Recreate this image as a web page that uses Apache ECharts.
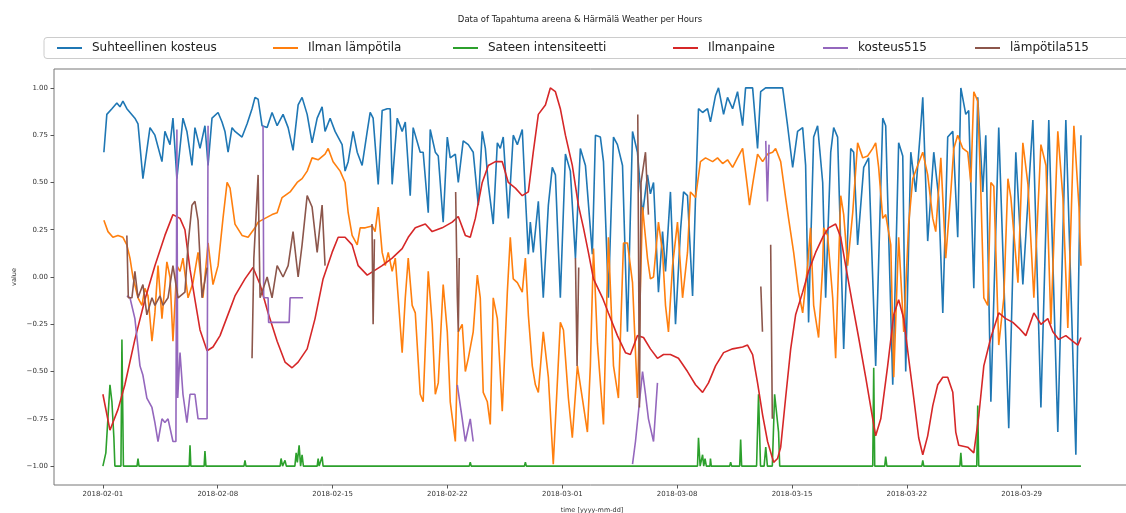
<!DOCTYPE html>
<html><head><meta charset="utf-8">
<script src="https://cdn.jsdelivr.net/npm/echarts@6/dist/echarts.min.js"></script>
<style>html,body{margin:0;padding:0;background:#fff}#c{width:1126px;height:513px}</style>
</head><body><div id="c"></div>
<script>
// Day offsets are counted from 2018-02-01 00:00
const chartTitle = 'Data of Tapahtuma areena & Härmälä Weather per Hours';
const seriesNames = ['Suhteellinen kosteus', 'Ilman lämpötila', 'Sateen intensiteetti', 'Ilmanpaine', 'kosteus515', 'lämpötila515'];
const tickDays = [0, 7, 14, 21, 28, 35, 42, 49, 56];
const tickLabels = ['2018-02-01', '2018-02-08', '2018-02-15', '2018-02-22', '2018-03-01', '2018-03-08', '2018-03-15', '2018-03-22', '2018-03-29'];
const yTicks = [-1, -0.75, -0.5, -0.25, 0, 0.25, 0.5, 0.75, 1];

const rhDays = [0.06,0.24,0.55,0.85,1.04,1.22,1.46,1.95,2.14,2.44,2.87,3.17,3.60,3.78,4.09,4.27,4.51,4.88,5.12,5.43,5.61,5.92,6.22,6.41,6.65,7.02,7.26,7.44,7.63,7.87,8.05,8.48,8.79,9.09,9.27,9.46,9.70,10.01,10.31,10.62,10.98,11.29,11.59,11.90,12.14,12.45,12.75,13.06,13.36,13.54,13.85,14.15,14.58,14.76,14.95,15.25,15.50,15.80,16.11,16.29,16.47,16.78,17.02,17.33,17.51,17.63,17.94,18.24,18.43,18.73,18.91,19.34,19.52,19.83,19.95,20.26,20.44,20.74,20.99,21.17,21.48,21.66,21.96,22.27,22.57,22.88,23.12,23.31,23.49,23.79,24.04,24.22,24.40,24.71,25.01,25.26,25.56,25.75,25.93,26.05,26.23,26.54,26.84,27.15,27.39,27.58,27.88,28.19,28.49,28.80,29.10,29.41,29.83,30.02,30.32,30.51,30.81,31.12,31.36,31.67,31.97,32.28,32.58,32.89,33.19,33.37,33.56,33.86,34.11,34.29,34.59,34.90,35.20,35.39,35.63,35.94,36.12,36.30,36.55,36.85,37.03,37.34,37.52,37.83,38.07,38.38,38.68,38.99,39.17,39.60,39.90,40.09,40.39,40.82,41.43,41.73,42.04,42.34,42.65,42.83,43.01,43.32,43.56,43.87,44.05,44.36,44.54,44.78,45.15,45.58,45.76,46.00,46.37,46.67,47.10,47.53,47.71,48.14,48.50,48.75,48.93,49.24,49.54,49.85,49.97,50.27,50.64,50.94,51.19,51.49,51.80,52.10,52.29,52.59,52.77,53.08,53.32,53.63,53.81,54.12,54.60,55.21,55.64,56.07,56.68,57.17,57.65,58.20,58.69,59.30,59.61];
const rhValues = [0.66,0.86,0.89,0.92,0.90,0.93,0.89,0.84,0.81,0.52,0.79,0.75,0.61,0.77,0.70,0.84,0.52,0.84,0.77,0.59,0.79,0.68,0.80,0.59,0.84,0.87,0.82,0.77,0.66,0.79,0.77,0.74,0.81,0.89,0.95,0.94,0.80,0.79,0.87,0.80,0.86,0.79,0.67,0.91,0.95,0.86,0.71,0.84,0.90,0.77,0.84,0.77,0.70,0.56,0.61,0.77,0.66,0.59,0.77,0.87,0.84,0.49,0.88,0.89,0.89,0.49,0.84,0.77,0.82,0.43,0.79,0.66,0.66,0.34,0.78,0.66,0.64,0.29,0.74,0.63,0.65,0.50,0.72,0.70,0.66,0.38,0.77,0.68,0.49,0.28,0.71,0.68,0.74,0.31,0.75,0.70,0.78,0.43,0.12,0.29,0.13,0.40,-0.11,0.38,0.58,0.54,-0.11,0.65,0.56,0.10,0.68,0.59,0.12,0.75,0.74,0.61,-0.11,0.74,0.70,0.59,-0.29,0.77,0.66,0.33,0.54,0.44,0.50,-0.08,0.24,0.03,0.45,-0.25,0.24,0.45,0.43,-0.10,0.42,0.89,0.87,0.89,0.82,0.96,1.00,0.86,0.95,0.89,0.98,0.80,1.00,1.00,0.68,0.98,1.00,1.00,1.00,0.80,0.58,0.77,0.79,0.59,-0.24,0.74,0.80,0.50,-0.11,0.66,0.79,0.74,-0.38,0.68,0.66,0.17,0.58,0.63,-0.47,0.84,0.80,-0.57,0.71,0.64,-0.50,0.66,0.45,0.80,0.95,0.19,0.66,0.42,-0.19,0.74,0.77,0.21,1.00,0.86,0.88,-0.06,0.95,0.45,0.75,-0.66,0.79,-0.80,0.66,-0.04,0.83,-0.69,0.83,-0.82,0.83,-0.94,0.75];

const tempDays = [0.06,0.31,0.61,0.92,1.22,1.46,1.65,1.83,2.14,2.38,2.56,2.75,2.99,3.17,3.36,3.60,3.90,4.09,4.27,4.51,4.70,4.88,5.19,5.49,5.80,6.10,6.41,6.71,7.02,7.32,7.57,7.75,8.05,8.48,8.85,9.27,9.46,9.88,10.31,10.62,10.92,11.41,11.84,12.14,12.45,12.75,13.12,13.54,13.73,14.03,14.46,14.76,14.95,15.19,15.50,15.68,15.99,16.41,16.59,16.78,17.02,17.21,17.39,17.63,17.82,18.00,18.24,18.43,18.61,18.85,19.04,19.34,19.52,19.83,20.07,20.26,20.44,20.74,20.99,21.17,21.48,21.66,21.90,22.09,22.27,22.57,22.82,23.00,23.18,23.43,23.61,23.79,24.04,24.34,24.65,24.83,25.01,25.26,25.56,25.75,25.93,26.17,26.36,26.54,26.84,27.15,27.45,27.88,28.07,28.37,28.61,28.92,29.22,29.53,29.71,29.90,30.14,30.51,30.81,31.12,31.42,31.73,31.97,32.28,32.58,32.89,33.19,33.37,33.56,33.86,34.11,34.29,34.47,34.72,35.02,35.33,35.63,35.81,36.12,36.42,36.73,37.16,37.46,37.77,38.07,38.38,38.68,38.99,39.29,39.41,39.60,39.90,40.21,40.51,40.82,41.00,41.31,41.61,41.79,42.10,42.40,42.65,42.95,43.13,43.32,43.62,43.87,43.93,44.17,44.48,44.66,44.97,45.15,45.39,45.70,46.00,46.31,46.61,46.92,47.10,47.28,47.53,47.71,48.02,48.20,48.50,48.81,49.11,49.36,49.66,49.97,50.27,50.58,50.76,51.07,51.37,51.68,51.86,52.10,52.41,52.71,52.90,53.08,53.32,53.51,53.69,53.93,54.12,54.30,54.60,54.91,55.16,55.34,55.77,56.07,56.38,56.74,57.17,57.48,57.78,58.20,58.51,58.81,59.18,59.49,59.61];
const tempValues = [0.30,0.24,0.21,0.22,0.21,0.17,0.10,0.00,-0.11,-0.15,-0.06,-0.10,-0.34,-0.19,0.06,-0.22,0.08,0.00,-0.34,0.06,0.03,0.10,-0.11,-0.03,0.13,-0.11,0.18,-0.04,0.06,0.31,0.50,0.47,0.28,0.22,0.21,0.26,0.29,0.31,0.33,0.34,0.42,0.45,0.50,0.52,0.56,0.63,0.62,0.65,0.68,0.61,0.56,0.50,0.34,0.22,0.17,0.26,0.26,0.27,0.24,0.37,0.13,0.06,0.13,0.03,0.10,-0.11,-0.40,-0.11,0.10,-0.15,-0.19,-0.62,-0.66,0.03,-0.25,-0.62,-0.56,-0.04,-0.29,-0.66,-0.87,-0.29,-0.25,-0.50,-0.43,-0.29,0.01,-0.11,-0.61,-0.66,-0.78,-0.11,-0.22,-0.71,-0.08,0.21,-0.01,-0.03,-0.08,0.10,-0.20,-0.47,-0.57,-0.61,-0.29,-0.53,-0.99,-0.24,-0.28,-0.64,-0.85,-0.47,-0.64,-0.82,-0.47,0.15,-0.35,-0.78,0.21,-0.47,-0.64,0.18,0.18,-0.03,-0.64,0.37,0.10,-0.01,0.00,0.29,0.13,-0.15,-0.29,0.06,0.29,-0.11,0.13,0.45,0.42,0.61,0.63,0.61,0.63,0.60,0.62,0.58,0.63,0.68,0.47,0.38,0.49,0.65,0.61,0.65,0.66,0.68,0.61,0.42,0.31,0.13,-0.08,-0.19,0.06,0.26,-0.15,-0.32,0.06,0.26,0.22,-0.11,-0.43,0.43,0.33,0.06,0.34,0.71,0.63,0.64,0.68,0.71,0.58,0.31,0.33,0.17,-0.53,0.21,-0.29,0.28,0.52,0.59,0.66,0.54,0.31,0.24,0.63,0.10,0.45,0.68,0.75,0.68,0.66,0.50,0.98,0.93,0.45,-0.11,-0.15,0.50,0.48,-0.36,-0.11,0.52,0.42,-0.03,0.71,0.49,-0.11,0.70,0.59,-0.25,0.77,0.42,-0.27,0.80,0.37,0.06];

const rainDays = [0.00,0.18,0.43,0.55,0.67,0.73,1.10,1.16,1.25,2.08,2.14,2.20,5.26,5.31,5.36,6.17,6.22,6.28,8.60,8.66,8.72,10.80,10.86,10.95,11.10,11.18,11.70,11.78,11.85,11.96,12.05,12.14,12.22,13.06,13.12,13.18,13.30,13.36,13.42,22.33,22.39,22.45,25.69,25.75,25.81,36.24,36.30,36.40,36.50,36.55,36.62,36.70,36.78,37.00,37.03,37.08,38.20,38.26,38.32,38.81,38.87,38.93,39.84,39.96,40.08,40.30,40.40,40.50,40.80,40.94,41.06,41.18,41.25,46.92,46.98,47.04,47.65,47.71,47.78,49.91,49.97,50.03,52.23,52.29,52.35,53.26,53.32,53.38,59.61];
const rainValues = [-1,-0.93,-0.57,-0.66,-0.85,-1,-1,-0.33,-1,-1,-0.96,-1,-1,-0.89,-1,-1,-0.92,-1,-1,-0.97,-1,-1,-0.96,-1,-0.97,-1,-1,-0.93,-0.98,-0.89,-1,-0.94,-1,-1,-0.96,-1,-1,-0.95,-1,-1,-0.98,-1,-1,-0.98,-1,-1,-0.85,-1,-1,-0.94,-1,-0.96,-1,-1,-0.96,-1,-1,-0.98,-1,-1,-0.86,-1,-1,-0.62,-1,-1,-0.90,-1,-1,-0.62,-0.62,-0.82,-1,-1,-0.48,-1,-1,-0.95,-1,-1,-0.97,-1,-1,-0.93,-1,-1,-0.68,-1,-1];

const pressDays = [0.00,0.43,0.92,1.34,1.95,2.56,3.17,3.78,4.27,4.70,5.00,5.31,5.61,5.92,6.35,6.71,7.14,7.75,8.05,8.66,9.15,9.58,10.07,10.62,11.10,11.53,11.90,12.45,12.93,13.42,13.97,14.34,14.76,15.19,15.56,16.11,16.47,17.02,17.63,18.24,18.61,19.04,19.65,20.07,20.68,21.29,21.66,22.09,22.39,22.70,23.12,23.49,23.92,24.34,24.71,25.14,25.56,25.93,26.23,26.54,26.97,27.27,27.58,27.88,28.19,28.61,28.98,29.29,29.59,29.90,30.45,30.81,31.36,31.85,32.15,32.58,32.95,33.37,33.80,34.17,34.59,35.08,35.63,36.12,36.55,36.91,37.34,37.83,38.38,38.99,39.29,39.60,39.90,40.21,40.51,40.88,41.12,41.31,41.61,41.92,42.22,42.65,43.01,43.44,43.87,44.23,44.66,44.97,45.27,45.70,46.06,46.49,46.92,47.10,47.41,47.83,48.20,48.50,48.81,49.11,49.42,49.72,49.97,50.27,50.58,50.88,51.19,51.49,51.80,51.98,52.16,52.71,53.08,53.39,53.69,54.12,54.60,55.03,55.46,55.83,56.25,56.74,57.17,57.59,57.90,58.26,58.69,59.12,59.42,59.61];
const pressValues = [-0.62,-0.81,-0.70,-0.57,-0.33,-0.12,0.06,0.22,0.33,0.31,0.25,0.04,-0.12,-0.28,-0.39,-0.37,-0.31,-0.17,-0.10,-0.01,0.05,-0.04,-0.19,-0.34,-0.45,-0.48,-0.45,-0.38,-0.22,-0.01,0.13,0.21,0.21,0.17,0.06,0.01,0.03,0.06,0.10,0.15,0.21,0.26,0.28,0.24,0.26,0.29,0.32,0.22,0.21,0.31,0.50,0.59,0.61,0.61,0.50,0.47,0.43,0.45,0.66,0.86,0.91,1.00,0.98,0.89,0.75,0.59,0.38,0.26,0.13,-0.01,-0.11,-0.19,-0.31,-0.40,-0.41,-0.31,-0.32,-0.38,-0.43,-0.41,-0.41,-0.43,-0.50,-0.57,-0.61,-0.56,-0.47,-0.40,-0.38,-0.37,-0.36,-0.41,-0.56,-0.73,-0.87,-0.98,-0.96,-0.90,-0.64,-0.38,-0.20,-0.08,0.03,0.13,0.21,0.26,0.28,0.21,0.06,-0.15,-0.32,-0.53,-0.75,-0.84,-0.75,-0.47,-0.20,-0.12,-0.22,-0.43,-0.64,-0.85,-0.94,-0.84,-0.68,-0.57,-0.53,-0.53,-0.61,-0.82,-0.89,-0.90,-0.93,-0.73,-0.47,-0.32,-0.19,-0.22,-0.24,-0.27,-0.31,-0.19,-0.25,-0.22,-0.29,-0.33,-0.31,-0.34,-0.36,-0.32];

const hum515Days = [1.46,1.65,1.95,2.26,2.44,2.68,2.99,3.17,3.36,3.60,3.78,3.97,4.27,4.45,4.51,4.56,4.70,4.88,5.12,5.31,5.61,5.80,6.10,6.35,6.41,6.45,9.76,9.80,10.07,10.10,11.35,11.41,12.20,12.25,21.60,21.90,22.09,22.39,22.57,22.62,32.28,32.46,32.89,33.07,33.25,33.56,33.80,33.85,40.40,40.50,40.60];
const hum515Values = [-0.10,-0.11,-0.22,-0.47,-0.52,-0.64,-0.69,-0.77,-0.87,-0.75,-0.77,-0.75,-0.87,-0.87,0.78,-0.64,-0.40,-0.62,-0.77,-0.62,-0.62,-0.75,-0.75,-0.75,0.80,null,0.80,-0.11,-0.11,-0.24,-0.24,-0.11,-0.11,null,-0.57,-0.75,-0.87,-0.75,-0.87,null,-0.99,-0.87,-0.50,-0.62,-0.75,-0.87,-0.56,null,0.72,0.40,0.70];

const temp515Days = [1.46,1.55,1.77,1.95,2.14,2.44,2.68,2.99,3.17,3.48,3.66,3.97,4.27,4.58,5.00,5.19,5.43,5.61,5.80,6.04,6.35,6.40,9.09,9.20,9.46,9.58,10.01,10.31,10.62,10.98,11.29,11.59,11.90,12.14,12.45,12.75,13.06,13.36,13.54,13.60,16.40,16.47,16.55,16.60,21.50,21.60,21.66,21.72,21.78,28.80,28.90,29.00,29.05,32.60,32.70,32.80,33.07,33.25,33.30,40.10,40.20,40.25,40.70,40.80];
const temp515Values = [0.22,-0.11,-0.11,0.03,-0.11,-0.04,-0.20,-0.11,-0.15,-0.10,-0.15,-0.11,0.06,-0.11,-0.08,0.17,0.38,0.40,0.30,-0.11,0.05,null,-0.43,0.10,0.54,-0.11,0.00,-0.11,0.06,0.00,0.06,0.24,0.00,0.17,0.43,0.37,0.13,0.38,0.06,null,0.28,-0.25,0.20,null,0.45,-0.10,-0.29,0.10,null,0.10,-0.47,0.05,null,0.86,-0.69,0.50,0.66,0.33,null,-0.05,-0.29,null,0.17,-0.75];

const colors = ['#1f77b4', '#ff7f0e', '#2ca02c', '#d62728', '#9467bd', '#8c564b'];
const dayList = [rhDays, tempDays, rainDays, pressDays, hum515Days, temp515Days];
const valList = [rhValues, tempValues, rainValues, pressValues, hum515Values, temp515Values];
const legendLefts = [57, 273, 453, 673, 823, 975];

const chart = echarts.init(document.getElementById('c'), null, {renderer: 'canvas'});
const fmtY = v => (v < 0 ? '\u2212' : '') + Math.abs(v).toFixed(2);

const series = seriesNames.map((name, k) => ({
  name, type: 'line', showSymbol: false, symbol: 'none', connectNulls: false,
  lineStyle: {width: 1.6, color: colors[k]}, itemStyle: {color: colors[k]},
  data: dayList[k].map((d, i) => [d, valList[k][i] === null ? '-' : valList[k][i]]),
  z: 2 + k, animation: false
}));

const legends = seriesNames.map((name, k) => ({
  data: [name], left: legendLefts[k], top: 42, itemWidth: 25, itemHeight: 2, icon: 'rect',
  padding: 0, textStyle: {fontFamily: 'DejaVu Sans', fontSize: 12, color: '#222', padding: [0, 0, 0, 5]}
}));

chart.setOption({
  animation: false,
  backgroundColor: '#fff',
  title: {text: chartTitle, left: 575, top: 10, textAlign: 'center',
    textStyle: {fontFamily: 'DejaVu Sans', fontSize: 8.5, fontWeight: 'normal', color: '#222'}},
  legend: legends,
  graphic: [{type: 'rect', shape: {x: 44, y: 37.5, width: 1100, height: 21, r: 3},
    style: {fill: 'rgba(255,255,255,0.8)', stroke: '#cccccc', lineWidth: 1}, z: -1}],
  grid: {left: 54, right: -4, top: 69, bottom: 28, containLabel: false, outerBoundsMode: 'none',
    show: true, borderColor: '#777', borderWidth: 1, backgroundColor: 'transparent'},
  xAxis: {
    type: 'value', min: -2.98, max: 62.6,
    name: 'time [yyyy-mm-dd]', nameLocation: 'middle', nameGap: 22, nameMoveOverlap: false,
    nameTextStyle: {fontFamily: 'DejaVu Sans', fontSize: 6.5, color: '#333'},
    axisLine: {show: false, onZero: false}, splitLine: {show: false},
    axisTick: {show: true, length: 3.5, lineStyle: {color: '#555'}, customValues: tickDays},
    axisLabel: {customValues: tickDays, margin: 6, fontFamily: 'DejaVu Sans', fontSize: 7, color: '#333',
      formatter: v => { const i = tickDays.indexOf(v); return i >= 0 ? tickLabels[i] : ''; }}
  },
  yAxis: {
    type: 'value', min: -1.1, max: 1.1,
    name: 'value', nameLocation: 'middle', nameGap: 36, nameMoveOverlap: false,
    nameTextStyle: {fontFamily: 'DejaVu Sans', fontSize: 6.5, color: '#333'},
    axisLine: {show: false, onZero: false}, splitLine: {show: false},
    axisTick: {show: true, length: 3.5, lineStyle: {color: '#555'}, customValues: yTicks},
    axisLabel: {customValues: yTicks, margin: 6, fontFamily: 'DejaVu Sans', fontSize: 7, color: '#333', formatter: fmtY}
  },
  series
});
</script></body></html>
